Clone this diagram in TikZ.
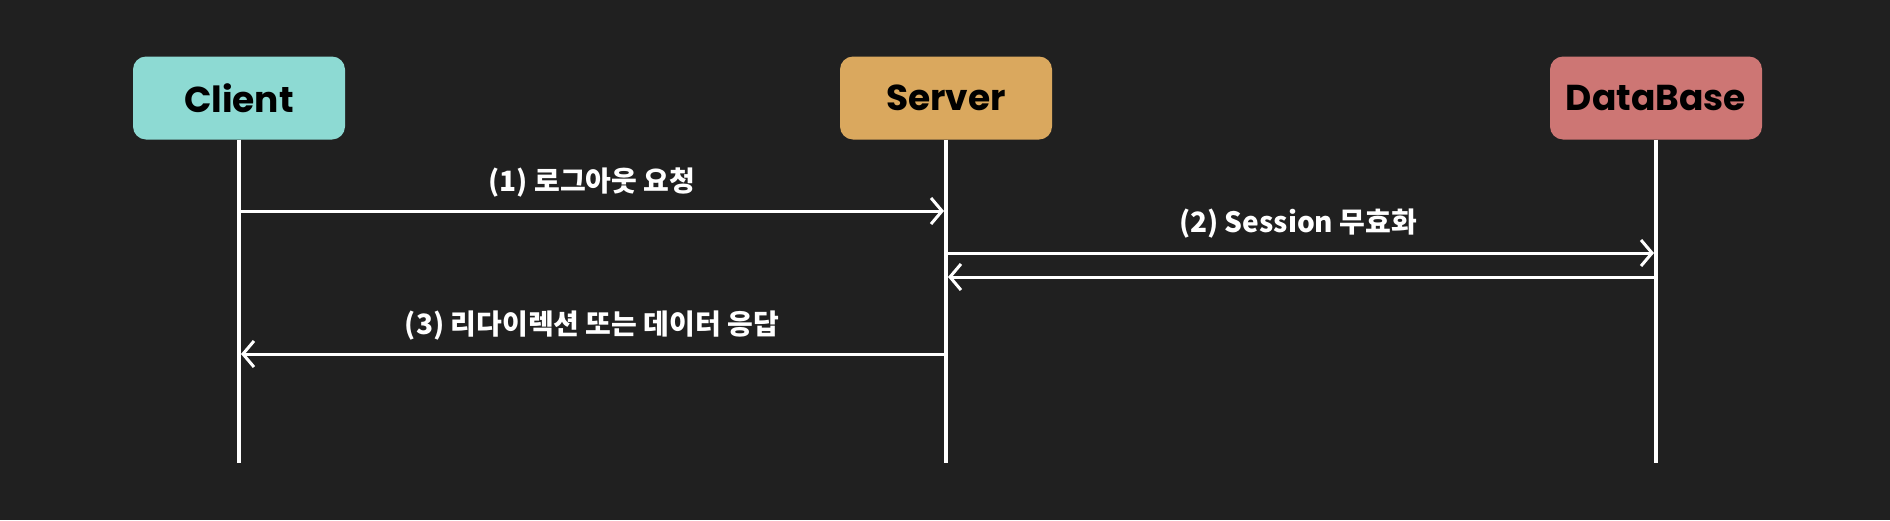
\documentclass[tikz,border=0pt]{standalone}
\usepackage{fontspec}
\usepackage{tikz}
\usetikzlibrary{arrows.meta}
\newfontfamily\boxfont{Poppins}
\newfontfamily\kofont{Noto Sans CJK KR}

\definecolor{bgdark}{RGB}{32,32,32}
\definecolor{clientc}{RGB}{141,218,211}
\definecolor{serverc}{RGB}{218,168,94}
\definecolor{dbc}{RGB}{205,118,116}

\tikzset{
  actor/.style={rounded corners=13pt, minimum width=212pt, minimum height=83pt, inner sep=0pt,
    text=black, font=\boxfont\bfseries\fontsize{36}{40}\selectfont},
  lifeline/.style={white, line width=4pt},
  msg/.style={white, line width=3pt, -{Straight Barb[length=11pt,width=26pt]}},
  msglabel/.style={text=white, inner sep=0pt, font=\kofont\bfseries\fontsize{28}{32}\selectfont},
}

\begin{document}
\begin{tikzpicture}[x=1pt,y=-1pt]
%set diagram size 1890 x 520
\fill[bgdark] (0,0) rectangle (1890,520);
\useasboundingbox (0,0) rectangle (1890,520);

%Shape: Rounded Rect [id:client]
\node[actor, fill=clientc] (client) at (239,98) {Client};
%Shape: Rounded Rect [id:server]
\node[actor, fill=serverc] (server) at (946,98) {Server};
%Shape: Rounded Rect [id:database]
\node[actor, fill=dbc] (db) at (1656,98) {DataBase};

%Straight Lines: lifelines
\coordinate (clientend) at (239,463);
\coordinate (serverend) at (946,463);
\coordinate (dbend) at (1656,463);
\draw[lifeline] (client.south) -- (clientend);
\draw[lifeline] (server.south) -- (serverend);
\draw[lifeline] (db.south) -- (dbend);

%Points on the lifelines
\coordinate (c1) at (239,211);
\coordinate (s1) at (944,211);
\coordinate (s2) at (948,253);
\coordinate (d2) at (1654,253);
\coordinate (d3) at (1654,277);
\coordinate (s3) at (948,277);
\coordinate (s4) at (944,354);
\coordinate (c4) at (241,354);

%Straight Lines: messages
\draw[msg] (c1) -- (s1);
\draw[msg] (s2) -- (d2);
\draw[msg] (d3) -- (s3);
\draw[msg] (s4) -- (c4);

% Text Node
\node[msglabel] (lbl1) at (592,183) {(1) 로그아웃 요청};
% Text Node
\node[msglabel] (lbl2) at (1298,224) {(2) Session 무효화};
% Text Node
\node[msglabel] (lbl3) at (592,326) {(3) 리다이렉션 또는 데이터 응답};

\end{tikzpicture}
\end{document}
